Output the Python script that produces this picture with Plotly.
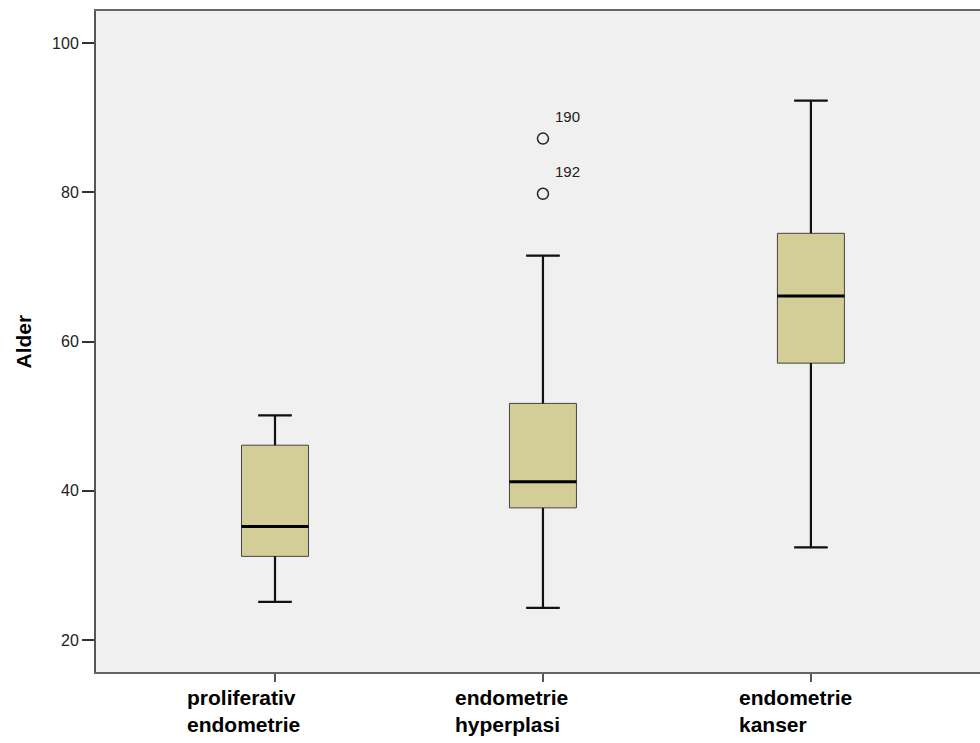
import plotly.graph_objects as go

categories = ["proliferativ<br>endometrie", "endometrie<br>hyperplasi", "endometrie<br>kanser"]
q1 = [31.2, 37.7, 57.1]
median = [35.2, 41.2, 66.1]
q3 = [46.1, 51.7, 74.5]
lower_whisker = [25.1, 24.3, 32.4]
upper_whisker = [50.1, 71.5, 92.3]
outlier_group = [1, 1]
outlier_values = [87.2, 79.8]
outlier_labels = ["190", "192"]
y_ticks = [20, 40, 60, 80, 100]

FONT = "Liberation Sans, Arial, sans-serif"
xpos = list(range(len(categories)))
box_w = 0.25
cap_w = box_w / 2

fig = go.Figure()
fig.add_trace(go.Box(
    x=xpos, q1=q1, median=median, q3=q3,
    lowerfence=lower_whisker, upperfence=upper_whisker,
    width=box_w, fillcolor="#D3CE97",
    line=dict(color="#444", width=1),
    boxpoints=False, showlegend=False, hoverinfo="skip",
))

# whiskers and caps
wx, wy = [], []
for i in xpos:
    wx += [i, i, None, i, i, None]
    wy += [q3[i], upper_whisker[i], None, q1[i], lower_whisker[i], None]
    wx += [i - cap_w / 2, i + cap_w / 2, None, i - cap_w / 2, i + cap_w / 2, None]
    wy += [upper_whisker[i], upper_whisker[i], None, lower_whisker[i], lower_whisker[i], None]
fig.add_trace(go.Scatter(x=wx, y=wy, mode="lines", line=dict(color="#111", width=2.2),
                         showlegend=False, hoverinfo="skip"))
# medians
mx, my = [], []
for i in xpos:
    mx += [i - box_w / 2, i + box_w / 2, None]
    my += [median[i], median[i], None]
fig.add_trace(go.Scatter(x=mx, y=my, mode="lines", line=dict(color="#000", width=3),
                         showlegend=False, hoverinfo="skip"))

fig.add_trace(go.Scatter(
    x=outlier_group, y=outlier_values, mode="markers",
    marker=dict(symbol="circle-open", size=11, color="#222", line=dict(width=1.5)),
    showlegend=False, hoverinfo="skip",
))
for g, v, t in zip(outlier_group, outlier_values, outlier_labels):
    fig.add_annotation(x=g, y=v, text=t, showarrow=False, xanchor="left", yanchor="middle",
                       xshift=10, yshift=22,
                       font=dict(family=FONT, size=15, color="#222"))

# category labels: left-aligned two-line blocks under each tick
label_left_shift = [-90, -90, -74]
for i, lab in enumerate(categories):
    for k, line in enumerate(lab.split("<br>")):
        fig.add_annotation(x=i, y=0, xref="x", yref="paper", text="<b>%s</b>" % line,
                           showarrow=False, xanchor="left", yanchor="middle",
                           xshift=label_left_shift[i], yshift=-25 - 27 * k,
                           font=dict(family=FONT, size=21, color="#000"))

fig.add_annotation(x=0, y=0.5, xref="paper", yref="paper", text="<b>Alder</b>",
                   textangle=-90, showarrow=False, xanchor="center", yanchor="middle",
                   xshift=-73, font=dict(family=FONT, size=21, color="#000"))

fig.update_layout(
    width=980, height=743,
    margin=dict(l=96, r=0, t=11, b=71),
    paper_bgcolor="white", plot_bgcolor="#F0F0F0",
    font=dict(family=FONT, color="#222"),
)
fig.update_xaxes(
    range=[-0.668, 2.631], tickvals=xpos, ticktext=["", "", ""],
    showline=True, linecolor="#666", linewidth=2, mirror=True,
    ticks="outside", ticklen=8, tickwidth=2, tickcolor="#555",
    showgrid=False, zeroline=False,
)
fig.update_yaxes(
    range=[15.7, 104.3], tickvals=y_ticks,
    showline=True, linecolor="#555", linewidth=2, mirror=False,
    ticks="outside", ticklen=12, tickwidth=2, tickcolor="#333",
    showgrid=False, zeroline=False,
    tickfont=dict(family=FONT, size=16, color="#222"),
)

fig.write_html("out.html", config={"displayModeBar": False},
               post_script="document.body.style.margin='0';")
